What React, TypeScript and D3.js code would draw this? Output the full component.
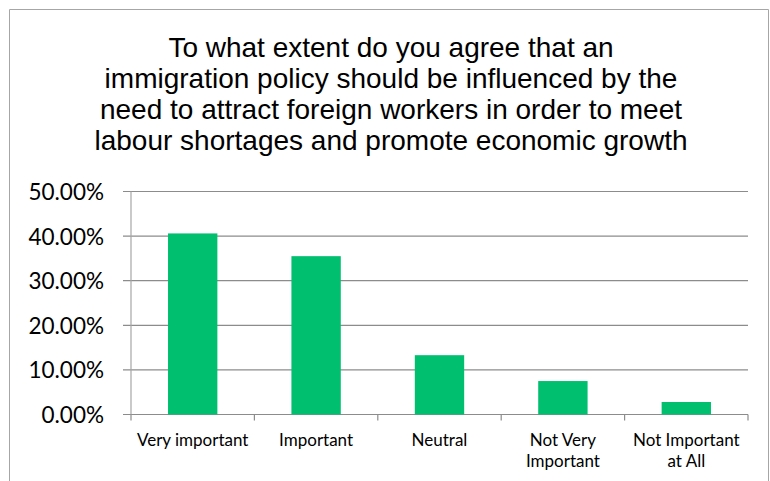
import React from "react";
import * as d3 from "d3";

const titleLines = [
  "To what extent do you agree that an",
  "immigration policy should be influenced by the",
  "need to attract foreign workers in order to meet",
  "labour shortages and promote economic growth",
];
const categories = ["Very important", "Important", "Neutral", "Not Very Important", "Not Important at All"];
const categoryLines = [["Very important"], ["Important"], ["Neutral"], ["Not Very", "Important"], ["Not Important", "at All"]];
const values = [0.406, 0.355, 0.133, 0.075, 0.028];
const yTicks = [0, 0.1, 0.2, 0.3, 0.4, 0.5];

export default function App() {
  const W = 770, H = 481;
  const left = 131, right = 748, top = 191.5, bottom = 414.5;
  const x = d3.scaleBand<string>().domain(categories).range([left, right]).paddingInner(0.6).paddingOuter(0.3);
  const xb = d3.scaleBand<string>().domain(categories).range([left, right]);
  const y = d3.scaleLinear().domain([0, 0.5]).range([bottom, top]);
  const fmt = (v: number) => (v * 100).toFixed(2) + "%";
  return (
    <svg width={W} height={H} style={{ position: "absolute", left: 0, top: 0 }}>
      <rect x={0} y={0} width={W} height={H} fill="#fff" />
      <path d={`M9.5,${H} V9.5 H768.5 V${H}`} fill="none" stroke="#a6a6a6" strokeWidth={1} />
      {titleLines.map((t, i) => (
        <text key={i} x={391} y={56.5 + i * 31.2} textAnchor="middle" fontFamily="'Liberation Sans', Arial, sans-serif" fontSize={28} fill="#000">
          {t}
        </text>
      ))}
      {yTicks.map((t) => (
        <g key={t}>
          <line x1={left - 8} x2={right} y1={y(t)} y2={y(t)} stroke="#8c8c8c" strokeWidth={1.2} />
          <text x={104} y={y(t) + 8.5} textAnchor="end" fontFamily="Lato, 'Open Sans', sans-serif" fontSize={22.5} fill="#000">
            {fmt(t)}
          </text>
        </g>
      ))}
      <line x1={left} x2={left} y1={top} y2={bottom} stroke="#a6a6a6" strokeWidth={1.2} />
      {categories.map((c) => (
        <line key={c} x1={xb(c)!} x2={xb(c)!} y1={bottom} y2={bottom + 6} stroke="#8c8c8c" strokeWidth={1.2} />
      ))}
      <line x1={right} x2={right} y1={bottom} y2={bottom + 6} stroke="#8c8c8c" strokeWidth={1.2} />
      {categories.map((c, i) => (
        <rect key={c} x={x(c)!} y={y(values[i])} width={x.bandwidth()} height={bottom - y(values[i])} fill="#00bf6f" />
      ))}
      {categories.map((c, i) => (
        <text key={c} textAnchor="middle" fontFamily="Lato, 'Open Sans', sans-serif" fontSize={17} fill="#000">
          {categoryLines[i].map((l, j) => (
            <tspan key={j} x={xb(c)! + xb.bandwidth() / 2} y={445.5 + j * 21}>
              {l}
            </tspan>
          ))}
        </text>
      ))}
    </svg>
  );
}
